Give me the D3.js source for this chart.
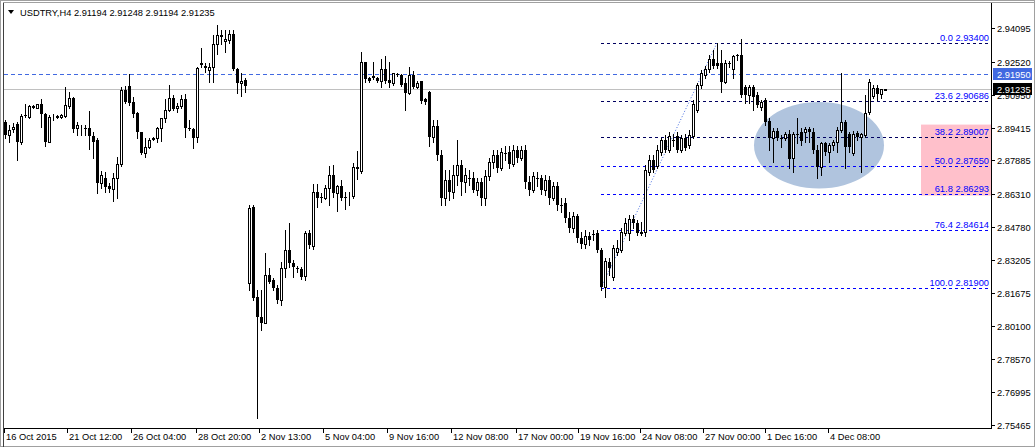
<!DOCTYPE html>
<html><head><meta charset="utf-8">
<script src="https://cdn.jsdelivr.net/npm/d3@7/dist/d3.min.js"></script>
<style>html,body{margin:0;padding:0;background:#fff;}svg{display:block;}text{font-family:"Liberation Sans",Arial,sans-serif;}</style>
</head><body><svg id="c" width="1036" height="448"></svg>
<script>
const symbol = "USDTRY,H4";
const lastQuote = [2.91194, 2.91248, 2.91194, 2.91235];
const open = [2.8970,2.8908,2.8936,2.8958,2.8876,2.9003,2.8994,2.9040,2.9036,2.9052,
2.9005,2.8876,2.8991,2.8994,2.8994,2.8999,2.9045,2.9084,2.8940,2.8940,
2.8940,2.8940,2.8905,2.8884,2.8682,2.8708,2.8668,2.8654,2.8708,2.8771,
2.9120,2.9138,2.9061,2.9010,2.8920,2.8822,2.8853,2.8891,2.8892,2.8942,
2.8986,2.9025,2.9081,2.9033,2.9044,2.9077,2.8941,2.8935,2.8900,2.9245,
2.9232,2.9214,2.9229,2.9334,2.9378,2.9350,2.9354,2.9382,2.9218,2.9153,
2.9167,2.8214,2.8570,2.8148,2.8054,2.8026,2.8251,2.8228,2.8190,2.8134,
2.8284,2.8368,2.8307,2.8284,2.8279,2.8246,2.8448,2.8387,2.8641,2.8617,
2.8612,2.8659,2.8720,2.8636,2.8669,2.8617,2.8622,2.8622,2.8758,2.8739,
2.9251,2.9176,2.9185,2.9176,2.9162,2.9218,2.9167,2.9153,2.9195,2.9190,
2.9153,2.9106,2.9190,2.9134,2.9162,2.9077,2.9110,2.8899,2.8950,2.8814,
2.8612,2.8697,2.8641,2.8720,2.8767,2.8688,2.8706,2.8706,2.8650,2.8688,
2.8612,2.8716,2.8782,2.8814,2.8753,2.8824,2.8828,2.8772,2.8838,2.8800,
2.8838,2.8688,2.8650,2.8706,2.8706,2.8650,2.8697,2.8612,2.8669,2.8580,
2.8589,2.8519,2.8472,2.8528,2.8425,2.8397,2.8434,2.8443,2.8448,2.8368,
2.8195,2.8312,2.8242,2.8359,2.8368,2.8448,2.8448,2.8514,2.8495,2.8448,
2.8453,2.8734,2.8791,2.8763,2.8828,2.8885,2.8838,2.8885,2.8903,2.8838,
2.8894,2.8861,2.8903,2.9025,2.9143,2.9190,2.9218,2.9265,2.9246,2.9246,
2.9157,2.9246,2.9218,2.9284,2.9284,2.9134,2.9096,2.9134,2.9096,2.9040,
2.9072,2.8974,2.8894,2.8927,2.8894,2.8894,2.8913,2.8800,2.8913,2.8922,
2.8922,2.8936,2.8922,2.8838,2.8758,2.8871,2.8828,2.8861,2.8875,2.8931,
2.8969,2.8913,2.8824,2.8918,2.8899,2.8908,2.9016,2.9091,2.9129,2.9101,
2.91194];
const high = [2.8978,2.8955,2.8963,2.8967,2.9005,2.9052,2.9049,2.9049,2.9055,2.9077,
2.9010,2.9002,2.9005,2.9002,2.9005,2.9135,2.9112,2.9088,2.8967,2.8955,
2.8955,2.9020,2.8924,2.8892,2.8739,2.8736,2.8682,2.8728,2.8806,2.9135,
2.9140,2.9193,2.9088,2.9015,2.8923,2.8892,2.8895,2.8899,2.8947,2.8989,
2.9077,2.9143,2.9096,2.9057,2.9096,2.9099,2.8978,2.8940,2.9229,2.9318,
2.9245,2.9245,2.9378,2.9425,2.9401,2.9401,2.9401,2.9401,2.9224,2.9199,
2.9176,2.8580,2.8580,2.8181,2.8181,2.8354,2.8284,2.8237,2.8204,2.8312,
2.8462,2.8495,2.8321,2.8293,2.8288,2.8458,2.8462,2.8678,2.8678,2.8636,
2.8673,2.8762,2.8767,2.8673,2.8697,2.8641,2.8641,2.8777,2.8833,2.9298,
2.9252,2.9181,2.9251,2.9181,2.9265,2.9279,2.9251,2.9199,2.9199,2.9195,
2.9176,2.9228,2.9209,2.9162,2.9162,2.9082,2.9115,2.8978,2.8978,2.8838,
2.8744,2.8744,2.8767,2.8885,2.8791,2.8753,2.8744,2.8734,2.8706,2.8706,
2.8744,2.8800,2.8838,2.8838,2.8847,2.8857,2.8857,2.8861,2.8857,2.8857,
2.8861,2.8716,2.8734,2.8734,2.8720,2.8720,2.8716,2.8688,2.8688,2.8612,
2.8612,2.8547,2.8547,2.8537,2.8453,2.8462,2.8453,2.8462,2.8462,2.8378,
2.8331,2.8331,2.8392,2.8415,2.8472,2.8519,2.8533,2.8533,2.8509,2.8500,
2.8767,2.8814,2.8814,2.8861,2.8894,2.8908,2.8922,2.8913,2.8922,2.8908,
2.8913,2.8932,2.9072,2.9153,2.9214,2.9232,2.9284,2.9307,2.9340,2.9307,
2.9260,2.9256,2.9284,2.9289,2.9359,2.9143,2.9143,2.9143,2.9110,2.9072,
2.9082,2.8988,2.8941,2.8941,2.8908,2.8922,2.8932,2.8922,2.8988,2.8941,
2.8946,2.8946,2.8941,2.8861,2.8875,2.8875,2.8871,2.8885,2.8946,2.9199,
2.8978,2.8922,2.8927,2.8927,2.8918,2.9096,2.9171,2.9143,2.9143,2.9124,
2.91248];
const low = [2.8892,2.8876,2.8923,2.8791,2.8864,2.8994,2.8986,2.9033,2.9033,2.8947,
2.8858,2.8874,2.8978,2.8986,2.8989,2.8994,2.9033,2.8920,2.8908,2.8908,
2.8908,2.8841,2.8802,2.8634,2.8658,2.8642,2.8642,2.8598,2.8611,2.8764,
2.9057,2.9049,2.8994,2.8892,2.8820,2.8806,2.8848,2.8884,2.8876,2.8880,
2.8970,2.9020,2.9025,2.9017,2.9033,2.8900,2.8931,2.8848,2.8874,2.9229,
2.9206,2.9156,2.9159,2.9287,2.9334,2.9297,2.9339,2.9214,2.9104,2.9092,
2.9110,2.8181,2.8134,2.7580,2.7993,2.8024,2.8214,2.8181,2.8120,2.8111,
2.8242,2.8288,2.8242,2.8265,2.8232,2.8228,2.8378,2.8373,2.8570,2.8594,
2.8608,2.8580,2.8617,2.8551,2.8603,2.8561,2.8580,2.8612,2.8702,2.8730,
2.9157,2.9157,2.9171,2.9157,2.9134,2.9153,2.9134,2.9143,2.9185,2.9138,
2.9025,2.9101,2.9131,2.9129,2.9058,2.9054,2.8857,2.8875,2.8791,2.8580,
2.8580,2.8603,2.8612,2.8674,2.8627,2.8641,2.8674,2.8641,2.8627,2.8580,
2.8580,2.8697,2.8753,2.8734,2.8744,2.8791,2.8753,2.8763,2.8782,2.8791,
2.8659,2.8627,2.8641,2.8669,2.8631,2.8627,2.8584,2.8603,2.8556,2.8547,
2.8500,2.8453,2.8453,2.8406,2.8378,2.8378,2.8392,2.8415,2.8359,2.8181,
2.8148,2.8251,2.8228,2.8345,2.8359,2.8439,2.8415,2.8472,2.8439,2.8439,
2.8434,2.8720,2.8734,2.8753,2.8814,2.8828,2.8828,2.8857,2.8828,2.8828,
2.8838,2.8847,2.8894,2.9016,2.9129,2.9176,2.9204,2.9223,2.9223,2.9110,
2.9153,2.9228,2.9176,2.9260,2.9087,2.9058,2.9058,2.9025,2.9040,2.9025,
2.8955,2.8838,2.8782,2.8885,2.8852,2.8885,2.8753,2.8734,2.8871,2.8861,
2.8875,2.8875,2.8824,2.8706,2.8720,2.8814,2.8782,2.8838,2.8828,2.8922,
2.8753,2.8828,2.8814,2.8885,2.8734,2.8899,2.9007,2.9082,2.9072,2.9082,
2.91194];
const close = [2.8908,2.8931,2.8947,2.8876,2.8999,2.8999,2.9044,2.9042,2.9052,2.9005,
2.8876,2.8991,2.8993,2.8995,2.9002,2.9049,2.9084,2.8936,2.8955,2.8941,
2.8938,2.8905,2.8876,2.8682,2.8720,2.8665,2.8654,2.8708,2.8771,2.9120,
2.9064,2.9060,2.9005,2.8920,2.8822,2.8853,2.8887,2.8892,2.8942,2.8986,
2.9025,2.9081,2.9030,2.9044,2.9077,2.8942,2.8940,2.8895,2.9224,2.9237,
2.9222,2.9228,2.9334,2.9378,2.9370,2.9359,2.9382,2.9218,2.9151,2.9162,
2.9138,2.8565,2.8143,2.8054,2.8026,2.8251,2.8219,2.8190,2.8134,2.8284,
2.8368,2.8307,2.8288,2.8282,2.8242,2.8448,2.8392,2.8641,2.8612,2.8616,
2.8659,2.8720,2.8636,2.8669,2.8612,2.8616,2.8623,2.8758,2.8748,2.9251,
2.9171,2.9162,2.9176,2.9162,2.9218,2.9162,2.9153,2.9199,2.9193,2.9143,
2.9106,2.9190,2.9134,2.9153,2.9068,2.9063,2.8899,2.8950,2.8814,2.8612,
2.8697,2.8641,2.8720,2.8767,2.8688,2.8720,2.8705,2.8650,2.8688,2.8612,
2.8716,2.8782,2.8814,2.8753,2.8828,2.8823,2.8772,2.8838,2.8800,2.8838,
2.8688,2.8650,2.8716,2.8705,2.8650,2.8697,2.8612,2.8669,2.8580,2.8579,
2.8519,2.8472,2.8528,2.8425,2.8397,2.8434,2.8415,2.8439,2.8368,2.8195,
2.8317,2.8284,2.8378,2.8378,2.8453,2.8495,2.8514,2.8495,2.8448,2.8455,
2.8744,2.8791,2.8744,2.8838,2.8885,2.8838,2.8903,2.8884,2.8838,2.8894,
2.8847,2.8908,2.9054,2.9143,2.9199,2.9218,2.9265,2.9232,2.9232,2.9157,
2.9246,2.9245,2.9279,2.9282,2.9096,2.9096,2.9134,2.9087,2.9049,2.9063,
2.8969,2.8894,2.8927,2.8894,2.8893,2.8913,2.8796,2.8913,2.8911,2.8880,
2.8936,2.8922,2.8838,2.8758,2.8871,2.8828,2.8861,2.8875,2.8931,2.8969,
2.8852,2.8852,2.8913,2.8899,2.8913,2.9012,2.9157,2.9129,2.9101,2.9124,
2.91235];

const priceTicks = [2.94095,2.92520,2.90950,2.89415,2.87885,2.86310,2.84780,2.83205,2.81675,2.80100,2.78570,2.76995,2.75465];
const timeTickBars = [0,15.75,31.75,48,63.75,79.75,95.75,111.75,128,143.5,159,174.75,190.25,206];
const timeTickLabels = ["16 Oct 2015","21 Oct 12:00","26 Oct 04:00","28 Oct 20:00","2 Nov 13:00","5 Nov 04:00","9 Nov 16:00","12 Nov 08:00","17 Nov 00:00","19 Nov 16:00","24 Nov 08:00","27 Nov 00:00","1 Dec 16:00","4 Dec 08:00"];

const fibLevels = [0.0, 23.6, 38.2, 50.0, 61.8, 76.4, 100.0];
const fibHigh = 2.93400, fibLow = 2.81900;
const fibLowBar = 149, fibHighBar = 178;
const hLinePrice = 2.91950;
const bidPrice = 2.91235;
const ellipseBars = [187.25, 219.75], ellipsePrices = [2.9063, 2.8657];
const rectBar = 229, rectPrices = [2.8957, 2.8624];

const svg = d3.select("#c");
const L = 4, R = 991, T = 3, B = 428;
const x = d3.scaleLinear().domain([0, 246.5]).range([5, 991]);
const y = d3.scaleLinear().domain([fibLow, fibHigh]).range([288, 43]);
const FS = "9.3px";

// frame
svg.append("rect").attr("x",0).attr("y",0).attr("width",1036).attr("height",448).attr("fill","#fff");
svg.append("rect").attr("x",0.5).attr("y",0.5).attr("width",1034).attr("height",446).attr("fill","none").attr("stroke","#a0a0a0");
svg.append("line").attr("x1",3.5).attr("x2",3.5).attr("y1",2).attr("y2",447).attr("stroke","#404040");
svg.append("line").attr("x1",3).attr("x2",1034).attr("y1",2.5).attr("y2",2.5).attr("stroke","#a0a0a0");

svg.append("clipPath").attr("id","pc").append("rect").attr("x",L).attr("y",T).attr("width",R-L).attr("height",B-T);
const plot = svg.append("g").attr("clip-path","url(#pc)");

// background objects
plot.append("rect").attr("x",x(rectBar)).attr("y",y(rectPrices[0])).attr("width",R - x(rectBar)).attr("height",y(rectPrices[1])-y(rectPrices[0])).attr("fill","#ffc0cb");
plot.append("ellipse")
  .attr("cx",(x(ellipseBars[0])+x(ellipseBars[1]))/2).attr("cy",(y(ellipsePrices[0])+y(ellipsePrices[1]))/2)
  .attr("rx",(x(ellipseBars[1])-x(ellipseBars[0]))/2).attr("ry",(y(ellipsePrices[1])-y(ellipsePrices[0]))/2)
  .attr("fill","#b0c4de");

// bid line
plot.append("line").attr("x1",L).attr("x2",R).attr("y1",Math.round(y(bidPrice))+0.5).attr("y2",Math.round(y(bidPrice))+0.5).attr("stroke","#c0c0c0");
// horizontal line
plot.append("line").attr("x1",L).attr("x2",R).attr("y1",Math.round(y(hLinePrice))+0.5).attr("y2",Math.round(y(hLinePrice))+0.5).attr("stroke","#4169e1").attr("stroke-dasharray","4,3");

// fib
const fx0 = x(fibLowBar);
fibLevels.forEach((lv,k)=>{
  const p = fibHigh - (fibHigh-fibLow)*lv/100;
  const yy = Math.round(y(p))+0.5;
  plot.append("line").attr("x1",fx0).attr("x2",R).attr("y1",yy).attr("y2",yy)
    .attr("stroke", lv<=38.2 ? "#000060" : "#0000ff").attr("stroke-dasharray","3,3");
  plot.append("text").attr("x",R-2).attr("y",yy-2.5).attr("text-anchor","end").attr("font-size",FS).attr("fill","#0000ff")
    .text(lv.toFixed(1)+" "+p.toFixed(5));
});
plot.append("line").attr("x1",x(fibLowBar)).attr("y1",y(fibLow)).attr("x2",x(fibHighBar)).attr("y2",y(fibHigh))
  .attr("stroke","#4169e1").attr("stroke-dasharray","1,2");

// candles
const idx = d3.range(open.length);
const cg = plot.append("g");
idx.forEach(i=>{
  const cx = Math.round(x(i));
  const o=open[i], c=close[i];
  cg.append("line").attr("x1",cx+0.5).attr("x2",cx+0.5).attr("y1",Math.round(y(high[i]))).attr("y2",Math.round(y(low[i]))+1).attr("stroke","#000");
  const top = Math.round(y(Math.max(o,c))), bot = Math.round(y(Math.min(o,c)));
  if (c >= o) {
    cg.append("rect").attr("x",cx-1+0.5).attr("y",top+0.5).attr("width",2).attr("height",Math.max(bot-top,0)).attr("fill","#fff").attr("stroke","#000");
  } else {
    cg.append("rect").attr("x",cx-1).attr("y",top).attr("width",3).attr("height",Math.max(bot-top,1)).attr("fill","#000");
  }
});

// axes lines
svg.append("line").attr("x1",R+0.5).attr("x2",R+0.5).attr("y1",T).attr("y2",B+1).attr("stroke","#000");
svg.append("line").attr("x1",L).attr("x2",R+1).attr("y1",B+0.5).attr("y2",B+0.5).attr("stroke","#000");

// price axis
const markerPx = [hLinePrice,bidPrice].map(p=>Math.round(y(p)));
svg.append("clipPath").attr("id","axclip").append("rect").attr("x",R+1).attr("y",markerPx[1]+6).attr("width",45).attr("height",20);
priceTicks.forEach(p=>{
  const yy = Math.round(y(p))+0.5;
  svg.append("line").attr("x1",R+1).attr("x2",R+4).attr("y1",yy).attr("y2",yy).attr("stroke","#000");
  const hidden = markerPx.some(m=>Math.abs(m-yy)<10);
  const t = svg.append("text").attr("x",R+6).attr("y",yy+3.5).attr("font-size",FS).attr("fill","#000").text(p.toFixed(5));
  if (hidden) t.attr("clip-path","url(#axclip)");
});
// price markers
[[hLinePrice,"#4169e1"],[bidPrice,"#000"]].forEach(([p,col])=>{
  const yy = Math.round(y(p));
  svg.append("rect").attr("x",R+2).attr("y",yy-6).attr("width",39).attr("height",12).attr("fill",col);
  svg.append("text").attr("x",R+6).attr("y",yy+3.5).attr("font-size",FS).attr("fill","#fff").text(p.toFixed(5));
});

// time axis
timeTickBars.forEach((b,k)=>{
  const xx = Math.round(x(b))-0.5;
  svg.append("line").attr("x1",xx).attr("x2",xx).attr("y1",B).attr("y2",B+5).attr("stroke","#000");
  svg.append("text").attr("x",xx+1.5).attr("y",B+12).attr("font-size",FS).attr("fill","#000").text(timeTickLabels[k]);
});

// title
svg.append("path").attr("d","M8,10 L14,10 L11,14 Z").attr("fill","#000");
svg.append("text").attr("x",20).attr("y",16).attr("font-size",FS).attr("fill","#000")
  .text(symbol + "  " + lastQuote.map(v=>v.toFixed(5)).join(" "));
</script></body></html>
